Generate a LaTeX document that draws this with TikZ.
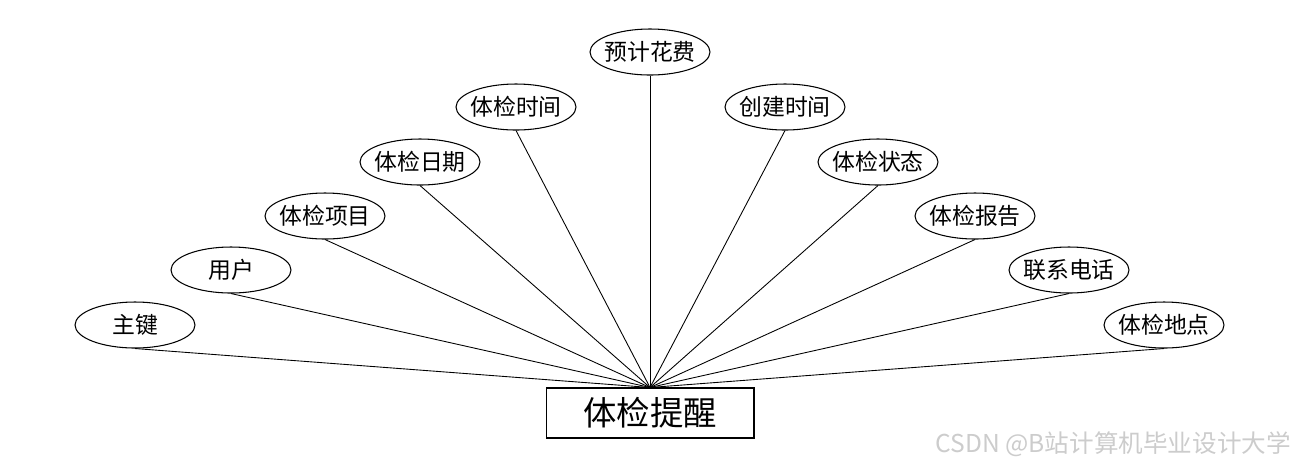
\documentclass[tikz,border=0pt]{standalone}
\usepackage{fontspec}
\setmainfont{Noto Sans CJK SC}
\usepackage{tikz}
\usetikzlibrary{shapes.geometric,positioning}

\begin{document}
\begin{tikzpicture}[
    x=0.02cm, y=-0.02cm,
    font=\fontsize{13}{14}\selectfont,
    attr/.style={draw, ellipse, inner xsep=-3pt, inner ysep=0pt, minimum width=2.4cm, minimum height=0.92cm, line width=0.6pt},
    entity/.style={draw, rectangle, minimum width=4.16cm, minimum height=1.0cm, line width=0.6pt, font=\fontsize{19}{20}\selectfont},
    link/.style={line width=0.5pt}
]
\useasboundingbox (0,0) rectangle (1300,468);

\node[entity] (remind) at (650,413) {体检提醒};

\node[attr] (pkey)    at (135,325)  {主键};
\node[attr] (user)    at (231,270)  {用户};
\node[attr] (item)    at (325,216)  {体检项目};
\node[attr] (date)    at (420,162)  {体检日期};
\node[attr] (time)    at (516,107)  {体检时间};
\node[attr] (cost)    at (650,52)   {预计花费};
\node[attr] (created) at (785,107)  {创建时间};
\node[attr] (status)  at (878,162)  {体检状态};
\node[attr] (report)  at (975,216)  {体检报告};
\node[attr] (phone)   at (1069,270) {联系电话};
\node[attr] (place)   at (1164,325) {体检地点};

\draw[link] (pkey.south) -- (remind.north);
\draw[link] (user.south) -- (remind.north);
\draw[link] (item.south) -- (remind.north);
\draw[link] (date.south) -- (remind.north);
\draw[link] (time.south) -- (remind.north);
\draw[link] (cost.south) -- (remind.north);
\draw[link] (created.south) -- (remind.north);
\draw[link] (status.south) -- (remind.north);
\draw[link] (report.south) -- (remind.north);
\draw[link] (phone.south) -- (remind.north);
\draw[link] (place.south) -- (remind.north);

% watermark
\node[anchor=east, text=gray!40, font=\fontsize{14}{15}\selectfont] (mark) at (1297,444) {CSDN @B站计算机毕业设计大学};
\end{tikzpicture}
\end{document}
